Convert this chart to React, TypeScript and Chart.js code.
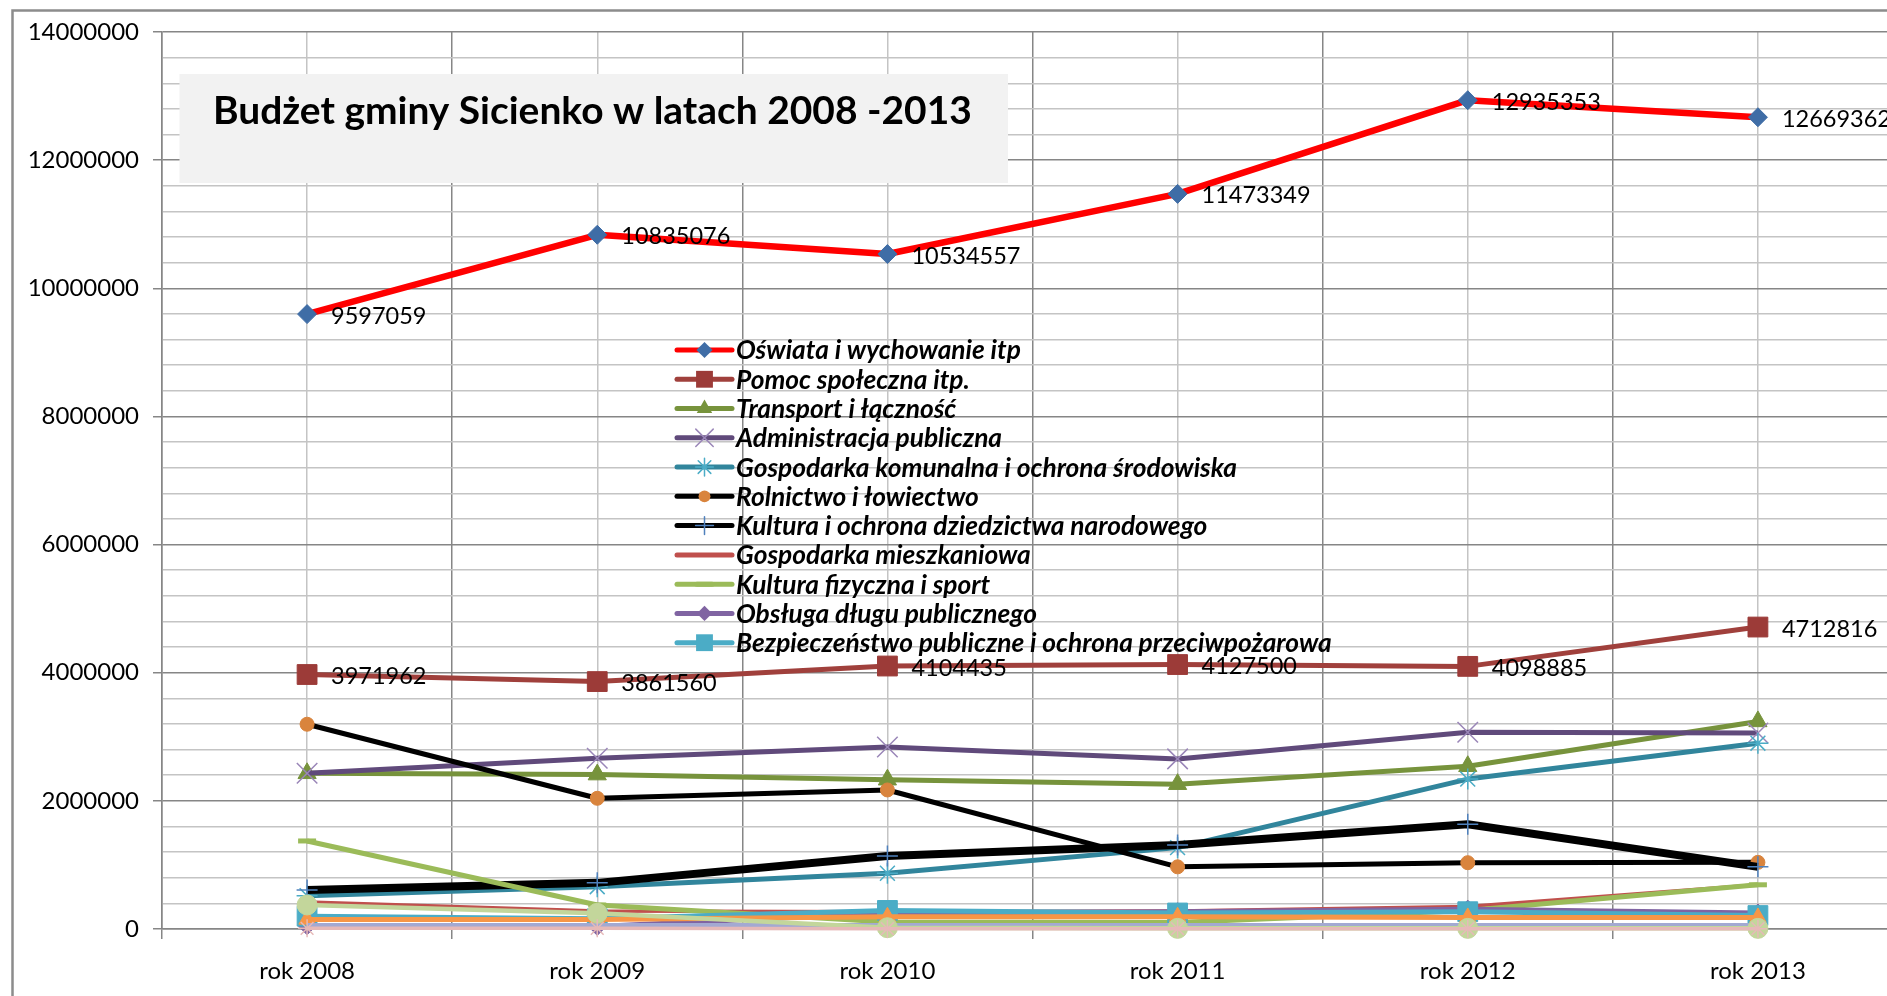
import React, { useEffect, useRef } from 'react';
import { Chart, registerables } from 'chart.js';

Chart.register(...registerables);

// ---------- DATA ----------
const categories = ['rok 2008', 'rok 2009', 'rok 2010', 'rok 2011', 'rok 2012', 'rok 2013'];

const oswiata = [9597059, 10835076, 10534557, 11473349, 12935353, 12669362];
const pomocSpoleczna = [3971962, 3861560, 4104435, 4127500, 4098885, 4712816];
const transport = [2430000, 2410000, 2330000, 2260000, 2540000, 3240000];
const administracja = [2430000, 2665000, 2840000, 2655000, 3070000, 3060000];
const gospodarkaKomunalna = [520000, 660000, 870000, 1270000, 2340000, 2900000];
const rolnictwo = [3196000, 2040000, 2170000, 970000, 1035000, 1040000];
const kultura = [610000, 720000, 1140000, 1310000, 1635000, 970000];
const mieszkaniowa = [420000, 280000, 270000, 280000, 350000, 690000];
const kulturaFizyczna = [1374000, 375000, 110000, 100000, 290000, 690000];
const dlugPubliczny = [50000, 40000, 250000, 270000, 310000, 250000];
const bezpieczenstwo = [200000, 160000, 290000, 250000, 270000, 210000];
const seria12 = [150000, 150000, 190000, 190000, 180000, 180000];
const seria13 = [60000, 60000, 60000, 60000, 60000, 60000];
const seria14 = [375000, 245000, 20000, 10000, 10000, 10000];
const seria15 = [10000, 10000, 5000, 5000, 5000, 5000];

const seriesNames = [
  'Oświata i wychowanie itp',
  'Pomoc społeczna itp.',
  'Transport i łączność',
  'Administracja publiczna',
  'Gospodarka komunalna i ochrona środowiska',
  'Rolnictwo i łowiectwo',
  'Kultura i ochrona dziedzictwa narodowego',
  'Gospodarka mieszkaniowa',
  'Kultura fizyczna i sport',
  'Obsługa długu publicznego',
  'Bezpieczeństwo publiczne i ochrona przeciwpożarowa',
  'Seria 12',
  'Seria 13',
  'Seria 14',
  'Seria 15',
];

const seriesValues = [
  oswiata, pomocSpoleczna, transport, administracja, gospodarkaKomunalna,
  rolnictwo, kultura, mieszkaniowa, kulturaFizyczna, dlugPubliczny,
  bezpieczenstwo, seria12, seria13, seria14, seria15,
];

const legendCount = 11;
const labelledSeries = [0, 1];

const yMax = 14000000;
const yTickStep = 400000;
const yLabelStep = 2000000;

const titleText = 'Budżet gminy Sicienko w latach 2008 -2013';

// ---------- STYLES ----------
type St = { line: string; width: number; marker: any; radius: number; fill: string; stroke: string; mw: number };
const seriesStyles: St[] = [
  { line: '#FF0000', width: 6.5, marker: 'rectRot', radius: 9.5, fill: '#3F6DA6', stroke: '#3F6DA6', mw: 1 },
  { line: '#A0403C', width: 5, marker: 'rect', radius: 14, fill: '#9C3B38', stroke: '#9C3B38', mw: 1 },
  { line: '#77933C', width: 5, marker: 'triangle', radius: 10.5, fill: '#77933C', stroke: '#77933C', mw: 1 },
  { line: '#604A7B', width: 5, marker: 'crossRot', radius: 14.5, fill: 'rgba(0,0,0,0)', stroke: '#9A86B8', mw: 1.5 },
  { line: '#31859C', width: 5, marker: 'star', radius: 10.5, fill: 'rgba(0,0,0,0)', stroke: '#4BACC6', mw: 1.5 },
  { line: '#000000', width: 5, marker: 'circle', radius: 7, fill: '#D9843D', stroke: '#D9843D', mw: 1 },
  { line: '#000000', width: 8, marker: 'cross', radius: 10.5, fill: 'rgba(0,0,0,0)', stroke: '#4F81BD', mw: 1.5 },
  { line: '#C0504D', width: 3.5, marker: false, radius: 0, fill: '#C0504D', stroke: '#C0504D', mw: 1 },
  { line: '#9BBB59', width: 5, marker: 'line', radius: 9, fill: '#9BBB59', stroke: '#9BBB59', mw: 5 },
  { line: '#8064A2', width: 5, marker: 'rectRot', radius: 9, fill: '#8064A2', stroke: '#8064A2', mw: 1 },
  { line: '#4BACC6', width: 5, marker: 'rect', radius: 14, fill: '#4BACC6', stroke: '#4BACC6', mw: 1 },
  { line: '#F79646', width: 5, marker: 'triangle', radius: 9.5, fill: '#F79646', stroke: '#F79646', mw: 1 },
  { line: '#A3A9D2', width: 4.5, marker: false, radius: 0, fill: '#A3A9D2', stroke: '#A3A9D2', mw: 1 },
  { line: '#C3D69B', width: 4.5, marker: 'circle', radius: 10, fill: '#C3D69B', stroke: '#C3D69B', mw: 1 },
  { line: '#E6B9B8', width: 3.5, marker: 'star', radius: 9, fill: 'rgba(0,0,0,0)', stroke: '#E6B9B8', mw: 1.5 },
];

const CANVAS_W = 1960;
const CANVAS_H = 996;
const FONT = 'Lato, "Open Sans", sans-serif';
const GRID_MAJOR = '#868686';
const GRID_MINOR = '#C4C4C4';

function drawMarker(ctx: CanvasRenderingContext2D, style: any, x: number, y: number, r: number, fill: string, stroke: string, lw: number) {
  if (!style) return;
  ctx.save();
  ctx.fillStyle = fill;
  ctx.strokeStyle = stroke;
  ctx.lineWidth = lw;
  ctx.beginPath();
  const q = Math.SQRT1_2 * r;
  switch (style) {
    case 'circle':
      ctx.arc(x, y, r, 0, Math.PI * 2);
      ctx.fill();
      break;
    case 'rectRot':
      ctx.moveTo(x - r, y); ctx.lineTo(x, y - r); ctx.lineTo(x + r, y); ctx.lineTo(x, y + r);
      ctx.closePath(); ctx.fill();
      break;
    case 'rect':
      ctx.rect(x - q, y - q, 2 * q, 2 * q); ctx.fill();
      break;
    case 'triangle': {
      let a = 0;
      ctx.moveTo(x + Math.sin(a) * r, y - Math.cos(a) * r);
      a += (2 * Math.PI) / 3;
      ctx.lineTo(x + Math.sin(a) * r, y - Math.cos(a) * r);
      a += (2 * Math.PI) / 3;
      ctx.lineTo(x + Math.sin(a) * r, y - Math.cos(a) * r);
      ctx.closePath(); ctx.fill();
      break;
    }
    case 'crossRot':
      ctx.moveTo(x - q, y - q); ctx.lineTo(x + q, y + q);
      ctx.moveTo(x - q, y + q); ctx.lineTo(x + q, y - q);
      ctx.stroke();
      break;
    case 'cross':
      ctx.moveTo(x, y - r); ctx.lineTo(x, y + r);
      ctx.moveTo(x - r, y); ctx.lineTo(x + r, y);
      ctx.stroke();
      break;
    case 'star':
      ctx.moveTo(x, y - r); ctx.lineTo(x, y + r);
      ctx.moveTo(x - r, y); ctx.lineTo(x + r, y);
      ctx.moveTo(x - q, y - q); ctx.lineTo(x + q, y + q);
      ctx.moveTo(x - q, y + q); ctx.lineTo(x + q, y - q);
      ctx.stroke();
      break;
    case 'line':
      ctx.moveTo(x - r, y); ctx.lineTo(x + r, y); ctx.stroke();
      break;
  }
  ctx.restore();
}

function fitFont(ctx: CanvasRenderingContext2D, text: string, prefix: string, targetW: number) {
  ctx.font = `${prefix} 20px ${FONT}`;
  const w = ctx.measureText(text).width;
  return (20 * targetW) / w;
}

const decorPlugin = {
  id: 'decor',
  beforeDraw(chart: any) {
    const ctx = chart.ctx as CanvasRenderingContext2D;
    ctx.save();
    ctx.fillStyle = '#FFFFFF';
    ctx.fillRect(0, 0, chart.width, chart.height);
    ctx.strokeStyle = '#8C8C8C';
    ctx.lineWidth = 2.5;
    ctx.strokeRect(12.5, 10.5, 4000, 4000);
    ctx.restore();
  },
  beforeDatasetsDraw(chart: any) {
    const ctx = chart.ctx as CanvasRenderingContext2D;
    ctx.save();
    ctx.fillStyle = '#F2F2F2';
    ctx.fillRect(179.5, 74, 828.5, 109);
    const size = fitFont(ctx, titleText, 'bold', 759);
    ctx.font = `bold ${size}px ${FONT}`;
    ctx.fillStyle = '#000000';
    ctx.textBaseline = 'alphabetic';
    ctx.textAlign = 'left';
    ctx.fillText(titleText, 213, 124);
    ctx.restore();
  },
  afterDatasetsDraw(chart: any) {
    const ctx = chart.ctx as CanvasRenderingContext2D;
    ctx.save();
    // data labels
    ctx.font = `23.5px ${FONT}`;
    ctx.fillStyle = '#000000';
    ctx.textAlign = 'left';
    ctx.textBaseline = 'middle';
    labelledSeries.forEach((di) => {
      const meta = chart.getDatasetMeta(di);
      meta.data.forEach((pt: any, i: number) => {
        ctx.fillText(String(seriesValues[di][i]), pt.x + 24, pt.y + 2);
      });
    });
    // legend
    const lx0 = 677, lx1 = 732, tx = 736, ly0 = 350, lstep = 29.27;
    const longest = seriesNames.slice(0, legendCount).reduce((a, b) => (b.length > a.length ? b : a), '');
    const lsize = fitFont(ctx, longest, 'italic bold', 596);
    for (let i = 0; i < legendCount; i++) {
      const st = seriesStyles[i];
      const y = ly0 + i * lstep;
      ctx.beginPath();
      ctx.strokeStyle = st.line;
      ctx.lineWidth = 5;
      ctx.lineCap = 'round';
      ctx.moveTo(lx0, y);
      ctx.lineTo(lx1, y);
      ctx.stroke();
      drawMarker(ctx, st.marker, (lx0 + lx1) / 2, y, st.radius * 0.85, st.fill, st.stroke, st.mw);
      ctx.font = `italic bold ${lsize}px ${FONT}`;
      ctx.fillStyle = '#000000';
      ctx.textBaseline = 'middle';
      ctx.fillText(seriesNames[i], tx, y + 1);
    }
    ctx.restore();
  },
};

export default function App() {
  const ref = useRef<HTMLCanvasElement>(null);
  useEffect(() => {
    const datasets = seriesNames.map((name, i) => {
      const st = seriesStyles[i];
      return {
        label: name,
        data: seriesValues[i],
        borderColor: st.line,
        borderWidth: st.width,
        backgroundColor: st.fill,
        pointStyle: st.marker,
        pointRadius: st.radius,
        pointBackgroundColor: st.fill,
        pointBorderColor: st.stroke,
        pointBorderWidth: st.mw,
        tension: 0,
        fill: false,
        clip: false as any,
        order: -i,
        borderJoinStyle: 'round' as const,
      };
    });
    const chart = new Chart(ref.current as HTMLCanvasElement, {
      type: 'line',
      data: { labels: categories, datasets: datasets as any },
      options: {
        animation: false,
        responsive: false,
        maintainAspectRatio: false,
        events: [],
        layout: { padding: { left: 0, top: 32, right: CANVAS_W - 1903, bottom: 0 } },
        plugins: { legend: { display: false }, tooltip: { enabled: false }, title: { display: false } },
        scales: {
          x: {
            type: 'category',
            offset: true,
            grid: { offset: true, color: GRID_MAJOR, lineWidth: 1.5, tickLength: 10, tickColor: GRID_MAJOR },
            border: { color: GRID_MAJOR, width: 1.5 },
            ticks: { font: { family: FONT, size: 24 }, color: '#000000', padding: 18, autoSkip: false, maxRotation: 0 },
            afterFit: (s: any) => { s.height = 67; },
          },
          x2: {
            type: 'category',
            labels: categories,
            offset: true,
            position: 'bottom',
            grid: { offset: false, color: GRID_MINOR, lineWidth: 1.5, drawTicks: false },
            border: { display: false },
            ticks: { display: false },
            afterFit: (s: any) => { s.height = 0; },
          },
          y: {
            type: 'linear',
            min: 0,
            max: yMax,
            ticks: {
              stepSize: yTickStep,
              autoSkip: false,
              font: { family: FONT, size: 24 },
              color: '#000000',
              padding: 14,
              callback: (v: any) => (Number(v) % yLabelStep === 0 ? String(v) : ''),
            },
            grid: {
              color: (c: any) => (c.tick && c.tick.value % yLabelStep === 0 ? GRID_MAJOR : GRID_MINOR),
              tickColor: (c: any) => (c.tick && c.tick.value % yLabelStep === 0 ? GRID_MAJOR : 'rgba(0,0,0,0)'),
              lineWidth: 1.5,
              tickLength: 9,
            },
            border: { color: GRID_MAJOR, width: 1.5 },
            afterFit: (s: any) => { s.width = 162; },
          },
        },
      } as any,
      plugins: [decorPlugin],
    });
    return () => chart.destroy();
  }, []);
  return (
    <div style={{ position: 'fixed', left: 0, top: 0, width: '100vw', height: '100vh', overflow: 'hidden', background: '#fff' }}>
      <canvas ref={ref} width={CANVAS_W} height={CANVAS_H} style={{ position: 'absolute', left: 0, top: 0, width: CANVAS_W, height: CANVAS_H }} />
    </div>
  );
}
